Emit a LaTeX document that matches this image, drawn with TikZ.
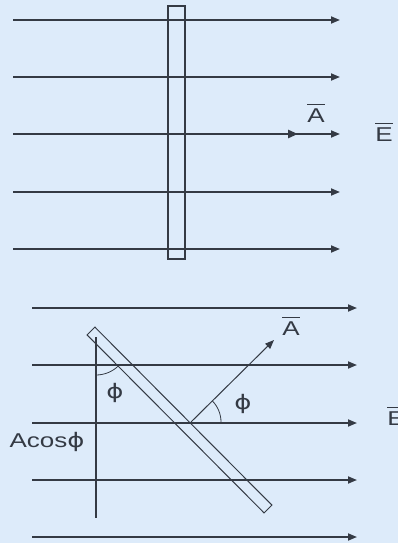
\documentclass[tikz,border=0pt]{standalone}
\usepackage{fontspec}
\setmainfont{Liberation Sans}
\newfontfamily\symfont{DejaVu Sans}
\usetikzlibrary{arrows.meta}
\definecolor{bg}{HTML}{DDEBFA}
\definecolor{ink}{HTML}{343A44}
\newcommand{\phisym}{{\symfont ϕ}}
\newcommand{\barred}[1]{\setbox0\hbox{#1}\vbox{\hrule height 1.4pt width \wd0 \kern 3pt \box0}}
\tikzset{
  field/.style={draw=ink, line width=1.7pt, -{Triangle[length=9pt,width=7pt]}},
  vecthick/.style={draw=ink, line width=2.8pt, -{Triangle[length=10pt,width=8pt]}},
  vecthin/.style={draw=ink, line width=1pt, -{Triangle[length=9pt,width=7pt]}},
  plate/.style={draw=ink, line width=1.2pt},
  guide/.style={draw=ink, line width=1.4pt},
  lbl/.style={text=ink, font=\fontsize{20}{20}\selectfont, xscale=1.3, inner sep=0pt},
}
\begin{document}
\begin{tikzpicture}[x=1pt,y=-1pt]
\fill[bg] (0,0) rectangle (398,543);
\useasboundingbox (0,0) rectangle (398,543);
% ---------- top panel ----------
\foreach \i/\y in {1/20,2/77,3/134,4/192,5/249}{
  \coordinate (tL\i) at (13,\y);
  \coordinate (tR\i) at (340,\y);
  \draw[field] (tL\i) -- (tR\i);
}
\node[plate, minimum width=17pt, minimum height=253pt, inner sep=0pt] (tplate) at (176.5,132.5) {};
\coordinate (tAend) at (298,134);
\draw[vecthick] (tplate.east |- tL3) -- (tAend);
\node[lbl] (tA) at (316,113) {\barred{A}};
\node[lbl] (tE) at (384,132) {\barred{E}};
% ---------- bottom panel ----------
\foreach \i/\y in {1/308,2/365,3/423,4/480,5/537}{
  \coordinate (bL\i) at (32,\y);
  \coordinate (bR\i) at (357,\y);
  \draw[field] (bL\i) -- (bR\i);
}
\coordinate (p1) at (94.9,327.1);
\coordinate (p2) at (271.9,505.1);
\coordinate (p3) at (264.1,512.9);
\coordinate (p4) at (87.1,334.9);
\draw[plate, line width=1pt] (p1) -- (p2) -- (p3) -- (p4) -- cycle;
\coordinate (vTop) at (96,337);
\coordinate (vBot) at (96,518);
\draw[guide] (vTop) -- (vBot);
\coordinate (bAstart) at (191,422);
\coordinate (bAend) at (274,340);
\draw[vecthin] (bAstart) -- (bAend);
\draw[draw=ink, line width=0.8pt] (221,422) arc[start angle=0, end angle=-45, radius=30];
\draw[draw=ink, line width=0.8pt] (96,375) arc[start angle=90, end angle=45, radius=32];
\node[lbl] (bA) at (291,326) {\barred{A}};
\node[lbl] (phi1) at (243,404) {\phisym};
\node[lbl] (phi2) at (115,393) {\phisym};
\node[lbl] (acos) at (47,442) {Acos\phisym};
\node[lbl, anchor=west] (bE) at (387,416) {\barred{E}};
\end{tikzpicture}
\end{document}
